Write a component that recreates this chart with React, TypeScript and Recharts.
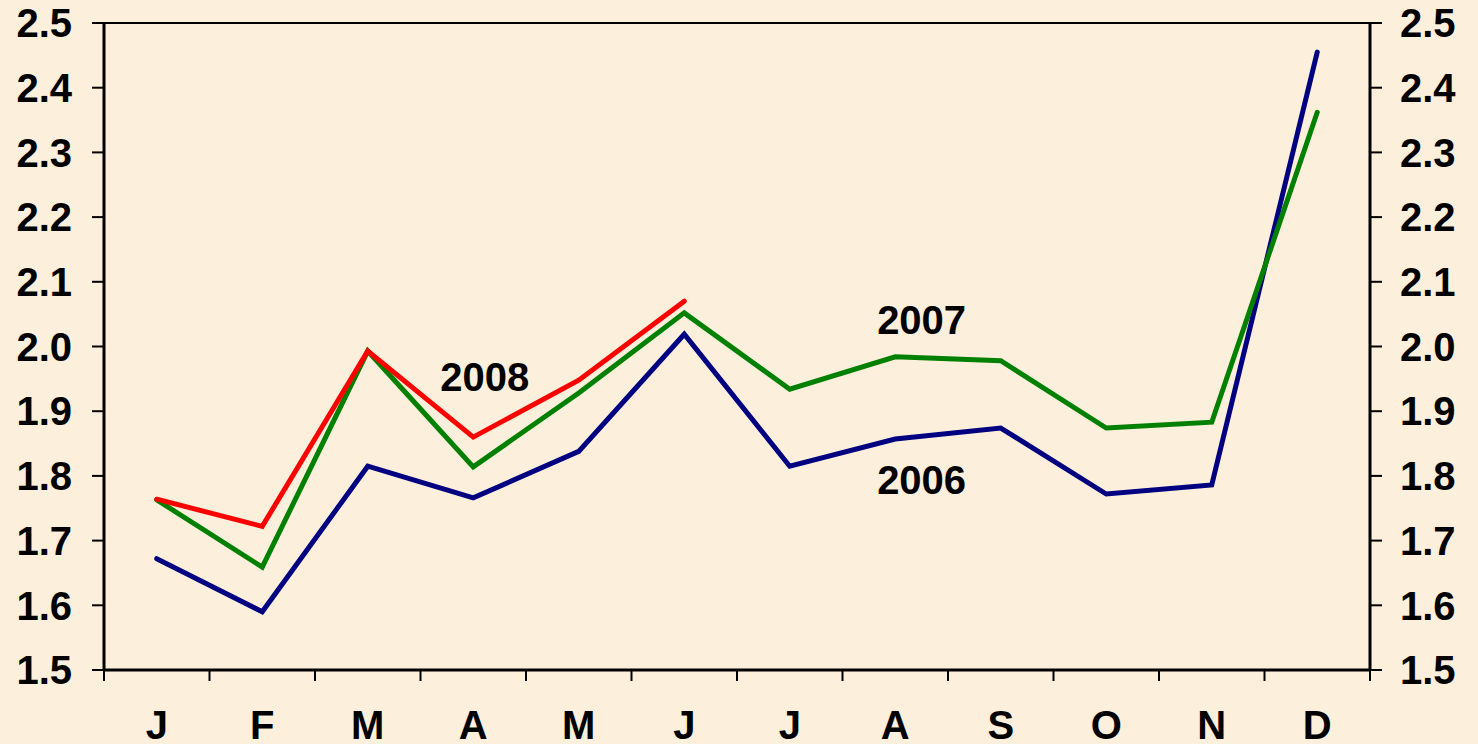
import { Label, Line, LineChart, ReferenceDot, ReferenceLine, XAxis, YAxis } from "recharts";

const months = ["J", "F", "M", "A", "M", "J", "J", "A", "S", "O", "N", "D"];
const v2006 = [1.672, 1.59, 1.815, 1.766, 1.838, 2.019, 1.815, 1.857, 1.874, 1.772, 1.786, 2.455];
const v2007 = [1.763, 1.659, 1.993, 1.814, 1.928, 2.052, 1.934, 1.984, 1.978, 1.874, 1.883, 2.362];
const v2008 = [1.764, 1.722, 1.993, 1.86, 1.948, 2.07];
const yTicks = [1.5, 1.6, 1.7, 1.8, 1.9, 2.0, 2.1, 2.2, 2.3, 2.4, 2.5];

// series labels placed in data space (month position, value)
const seriesLabels = [
  { text: "2008", x: 3.61, y: 1.953 },
  { text: "2007", x: 7.75, y: 2.041 },
  { text: "2006", x: 7.75, y: 1.794 },
];

// points sit in the middle of each month band, ticks on the band edges
const data = months.map((m, i) => ({
  x: i + 0.5,
  month: m,
  y2006: v2006[i],
  y2007: v2007[i],
  y2008: i < v2008.length ? v2008[i] : null,
}));
const edgeTicks = months.map((_, i) => i).concat(months.length);
const centerTicks = months.map((_, i) => i + 0.5);

const font = "'Liberation Sans', Arial, sans-serif";
const tickText = { fontSize: 40, fontWeight: 700, fill: "#000000", fontFamily: font };

export default function App() {
  return (
    <div style={{ position: "absolute", left: 0, top: 0, width: 1478, height: 744, background: "#fcefdc" }}>
      <LineChart width={1478} height={744} data={data} margin={{ top: 23, right: 0, bottom: 0, left: 0 }}>
        <XAxis
          dataKey="x"
          type="number"
          domain={[0, months.length]}
          ticks={edgeTicks}
          tickFormatter={() => ""}
          tickSize={11}
          height={12}
          axisLine={{ stroke: "#000000", strokeWidth: 3 }}
          tickLine={{ stroke: "#000000", strokeWidth: 2 }}
          interval={0}
        />
        <XAxis
          xAxisId="lbl"
          dataKey="x"
          type="number"
          domain={[0, months.length]}
          ticks={centerTicks}
          tickFormatter={(v) => months[Math.floor(Number(v))]}
          tickSize={0}
          tickMargin={29}
          height={62}
          axisLine={false}
          tickLine={false}
          tick={tickText}
          interval={0}
        />
        <YAxis
          domain={[1.5, 2.5]}
          ticks={yTicks}
          tickFormatter={(v) => Number(v).toFixed(1)}
          width={104}
          tickSize={12}
          tickMargin={20}
          tick={tickText}
          axisLine={{ stroke: "#000000", strokeWidth: 3 }}
          tickLine={{ stroke: "#000000", strokeWidth: 2 }}
          interval={0}
        />
        <YAxis
          yAxisId="right"
          orientation="right"
          dataKey="y2006"
          type="number"
          domain={[1.5, 2.5]}
          allowDataOverflow
          ticks={yTicks}
          tickFormatter={(v) => Number(v).toFixed(1)}
          width={108}
          tickSize={12}
          tickMargin={18}
          tick={{ ...tickText, textAnchor: "start" }}
          axisLine={{ stroke: "#000000", strokeWidth: 3 }}
          tickLine={{ stroke: "#000000", strokeWidth: 2 }}
          interval={0}
        />
        <ReferenceLine y={2.5} stroke="#000000" strokeWidth={2} />
        <Line dataKey="y2006" stroke="#000080" strokeWidth={5} strokeLinecap="round" dot={false} isAnimationActive={false} />
        <Line dataKey="y2007" stroke="#008000" strokeWidth={5} strokeLinecap="round" dot={false} isAnimationActive={false} />
        <Line dataKey="y2008" stroke="#ff0000" strokeWidth={5} strokeLinecap="round" dot={false} isAnimationActive={false} />
        {seriesLabels.map((s) => (
          <ReferenceDot key={s.text} x={s.x} y={s.y} r={0} fill="none" stroke="none">
            <Label value={s.text} position="center" fontSize={40} fontWeight={700} fill="#000000" fontFamily={font} />
          </ReferenceDot>
        ))}
      </LineChart>
    </div>
  );
}
